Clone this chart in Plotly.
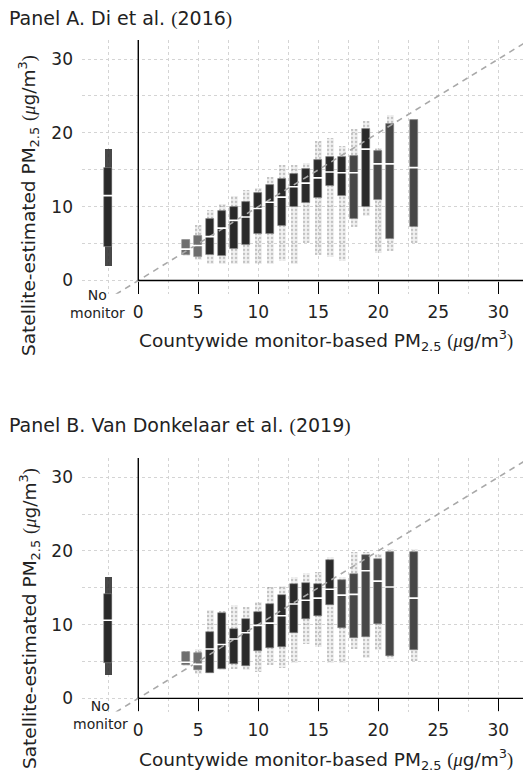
import numpy as np
import plotly.graph_objects as go

# ---------------- data ----------------
NO_MONITOR_X = -2.5
BIN_X = [4, 5, 6, 7, 8, 9, 10, 11, 12, 13, 14, 15, 16, 17, 18, 19, 20, 21, 23]
X_TICKS = [0, 5, 10, 15, 20, 25, 30]
Y_TICKS = [0, 10, 20, 30]
DIAG = [-5, 35]

# Panel A. Di et al. (2016)   first entry = "No monitor"
A_CLOUD_LO = [2.0, 3.3, 2.8, 2.3, 2.25, 2.25, 2.25, 2.3, 2.3, 2.7, 2.3, 5.1, 3.5, 3.2, 2.6, 7.3, 8.7, 3.7, 4.05, 5.1]
A_CLOUD_HI = [17.8, 5.7, 7.5, 9.6, 10.4, 11.5, 12.3, 12.6, 14.1, 15.7, 15.6, 16.0, 18.9, 19.3, 18.2, 20.6, 21.6, 18.0, 22.4, 21.9]
A_BOX_LO = [4.5, 3.5, 3.25, 3.5, 3.35, 4.25, 4.8, 6.3, 6.3, 7.4, 9.95, 10.5, 11.2, 12.8, 11.5, 8.4, 10.0, 10.9, 5.65, 7.3]
A_BOX_HI = [15.3, 5.5, 6.05, 8.3, 9.45, 9.95, 10.7, 11.9, 12.9, 13.8, 14.5, 15.1, 16.4, 16.8, 16.8, 16.9, 20.6, 17.5, 21.25, 21.8]
A_MEDIAN = [11.5, 4.25, 4.75, 5.95, 7.1, 8.15, 8.6, 9.75, 10.6, 11.3, 12.7, 13.2, 13.9, 14.7, 14.6, 14.6, 17.8, 15.8, 15.8, 15.3]

# Panel B. Van Donkelaar et al. (2019)
B_CLOUD_LO = [3.2, 4.4, 3.3, 3.4, 3.8, 3.95, 3.8, 3.6, 4.5, 4.1, 4.8, 7.4, 7.0, 4.8, 4.8, 6.7, 5.5, 6.6, 5.3, 5.1]
B_CLOUD_HI = [16.4, 6.4, 6.7, 12.0, 11.8, 12.6, 12.4, 13.0, 15.1, 15.2, 16.5, 17.0, 17.1, 19.2, 16.5, 19.8, 19.8, 19.6, 20.2, 20.3]
B_BOX_LO = [4.8, 4.5, 3.8, 3.5, 3.95, 4.7, 4.4, 6.4, 6.8, 7.0, 8.8, 10.7, 11.2, 12.6, 9.6, 8.2, 8.3, 10.1, 5.7, 6.6]
B_BOX_HI = [14.1, 6.3, 6.2, 8.95, 11.6, 9.4, 10.8, 11.7, 12.8, 14.0, 15.5, 15.7, 15.5, 18.8, 16.0, 16.8, 19.5, 18.9, 19.8, 19.9]
B_MEDIAN = [10.6, 4.9, 4.6, 6.7, 7.3, 8.05, 8.9, 9.9, 10.2, 11.2, 12.8, 13.3, 13.6, 14.8, 14.0, 14.1, 17.3, 15.9, 15.1, 13.6]

# ---------------- styling ----------------
DARK, MID, LIGHT = "#2a2a2a", "#474747", "#6e6e6e"
A_SHADE = [DARK, LIGHT, LIGHT, DARK, DARK, DARK, DARK, DARK, DARK, DARK, DARK, DARK, DARK, DARK, DARK, MID, DARK, MID, MID, MID]
B_SHADE = [DARK, LIGHT, LIGHT, DARK, DARK, DARK, DARK, DARK, DARK, DARK, DARK, DARK, DARK, DARK, MID, MID, MID, MID, MID, MID]

FONT = "DejaVu Sans"
SERIF = "Liberation Serif"
TXT = "#222222"
GRID = "#d4d4d4"

X_ALL = [NO_MONITOR_X] + BIN_X

fig = go.Figure()

panels = [
    ("x", "y", A_CLOUD_LO, A_CLOUD_HI, A_BOX_LO, A_BOX_HI, A_MEDIAN, A_SHADE),
    ("x2", "y2", B_CLOUD_LO, B_CLOUD_HI, B_BOX_LO, B_BOX_HI, B_MEDIAN, B_SHADE),
]
for xa, ya, clo, chi, blo, bhi, med, shade in panels:
    clo, chi, blo, bhi = map(np.array, (clo, chi, blo, bhi))
    # "No monitor" cloud: dense, dark
    fig.add_trace(go.Bar(
        x=X_ALL[:1], base=clo[:1], y=(chi - clo)[:1], width=0.55, xaxis=xa, yaxis=ya,
        marker=dict(color="rgba(40,40,40,0.85)", line=dict(width=0)),
        showlegend=False, hoverinfo="skip"))
    # monitored bins: sparse speckle cloud
    fig.add_trace(go.Bar(
        x=X_ALL[1:], base=clo[1:], y=(chi - clo)[1:], width=0.6, xaxis=xa, yaxis=ya,
        marker=dict(color="rgba(0,0,0,0.05)", line=dict(width=0),
                    pattern=dict(shape=".", fgcolor="rgba(70,70,70,0.55)", size=4, solidity=0.3)),
        showlegend=False, hoverinfo="skip"))
    fig.add_trace(go.Bar(
        x=X_ALL, base=blo, y=bhi - blo, width=0.7, xaxis=xa, yaxis=ya,
        marker=dict(color=shade, line=dict(color="#8a8a8a", width=0.6)),
        showlegend=False, hoverinfo="skip"))
    fig.add_trace(go.Scatter(
        x=DIAG, y=DIAG, mode="lines", xaxis=xa, yaxis=ya,
        line=dict(color="#a9a9a9", width=1.6, dash="6px,5px"),
        showlegend=False, hoverinfo="skip"))
    fig.add_trace(go.Scatter(
        x=X_ALL, y=med, mode="markers", xaxis=xa, yaxis=ya,
        marker=dict(symbol="line-ew", size=8, line=dict(color="white", width=1.6)),
        showlegend=False, hoverinfo="skip"))
    # axis lines starting at the origin
    fig.add_shape(type="line", xref=xa, yref=ya, x0=0, x1=0, y0=0, y1=32.6,
                  line=dict(color="black", width=1.4))
    fig.add_shape(type="line", xref=xa, yref=ya, x0=0, x1=32.06, y0=0, y1=0,
                  line=dict(color="black", width=1.4))

XR = [-4.69, 32.06]
YR = [-1.8, 32.6]

common_x = dict(
    range=XR, domain=[0, 1], anchor="free", tickmode="array", tickvals=X_TICKS,
    ticks="outside", ticklen=12, tickwidth=1.4, tickcolor="black",
    showline=False, zeroline=False, showgrid=True, gridcolor=GRID, griddash="3px,3px", gridwidth=1,
    minor=dict(tickmode="linear", tick0=0, dtick=2.5, showgrid=True, gridcolor=GRID,
               griddash="3px,3px", gridwidth=1, ticks=""),
    tickfont=dict(family=FONT, size=17, color=TXT), ticklabelstandoff=4, automargin=False, fixedrange=True)
common_y = dict(
    range=YR, tickmode="array", tickvals=Y_TICKS, ticks="", showline=False, zeroline=False,
    showgrid=True, gridcolor=GRID, griddash="3px,3px", gridwidth=1,
    minor=dict(tickmode="linear", tick0=0, dtick=5, showgrid=True, gridcolor=GRID,
               griddash="3px,3px", gridwidth=1, ticks=""),
    tickfont=dict(family=FONT, size=17, color=TXT), ticklabelstandoff=8, automargin=False, fixedrange=True)

fig.update_layout(
    width=523, height=780, margin=dict(l=82, r=0, t=0, b=0),
    paper_bgcolor="white", plot_bgcolor="white", barmode="overlay", bargap=0,
    xaxis=dict(position=0.64038, **common_x),
    yaxis=dict(domain=[0.62333, 0.94885], anchor="x", **common_y),
    xaxis2=dict(position=0.10474, **common_x),
    yaxis2=dict(domain=[0.0877, 0.4128], anchor="x2", **common_y),
)

def sp(t):
    return f'<span style="font-family:{SERIF}">{t}</span>'

x_title = f'Countywide monitor-based PM<sub>2.5</sub> {sp("(<i>μ</i>")}g/m<sup>3</sup>{sp(")")}'
y_title = f'Satellite-estimated PM<sub>2.5</sub> {sp("(<i>μ</i>")}g/m<sup>3</sup>{sp(")")}'

ann = []
for title, ty in [(f'Panel A. Di et al. {sp("(")}2016{sp(")")}', 1 - 18 / 780),
                  (f'Panel B. Van Donkelaar et al. {sp("(")}2019{sp(")")}', 1 - 426 / 780)]:
    ann.append(dict(text=title, xref="paper", yref="paper", x=(7 - 82) / 441, y=ty,
                    xanchor="left", yanchor="middle", showarrow=False,
                    font=dict(family=FONT, size=19, color=TXT)))
for ty in [1 - 340 / 780, 1 - 759 / 780]:
    ann.append(dict(text=x_title, xref="paper", yref="paper", x=(515 - 82) / 441, y=ty,
                    xanchor="right", yanchor="middle", showarrow=False,
                    font=dict(family=FONT, size=18.5, color=TXT)))
for ty in [1 - 206 / 780, 1 - 619 / 780]:
    ann.append(dict(text=y_title, xref="paper", yref="paper", x=(29 - 82) / 441, y=ty,
                    xanchor="center", yanchor="middle", textangle=-90, showarrow=False,
                    font=dict(family=FONT, size=18.5, color=TXT)))
for tx, ty in [((97 - 82) / 441, 1 - 285 / 780), ((100 - 82) / 441, 1 - 696 / 780)]:
    ann.append(dict(text="No<br>monitor", xref="paper", yref="paper", x=tx, y=ty,
                    xanchor="center", yanchor="top", showarrow=False,
                    font=dict(family=FONT, size=14, color=TXT)))
fig.update_layout(annotations=ann)

fig.write_html("out.html", config={"displayModeBar": False},
               post_script="document.body.style.margin='0px';")
